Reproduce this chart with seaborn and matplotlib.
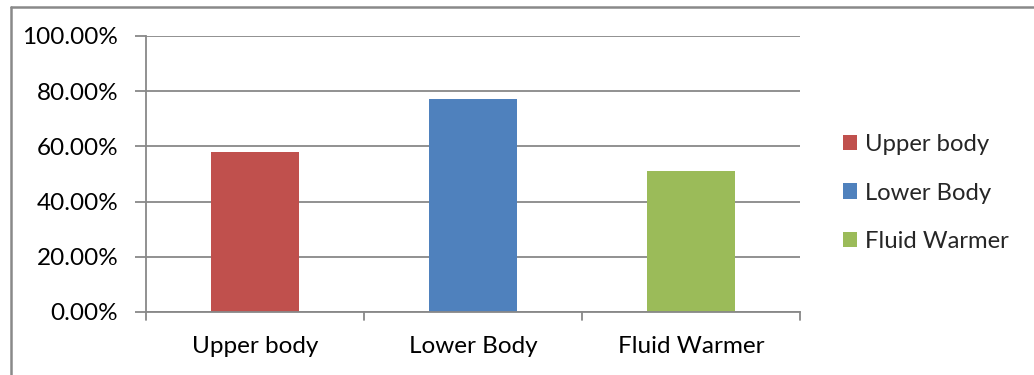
import matplotlib
matplotlib.use("Agg")
import matplotlib.pyplot as plt
from matplotlib.lines import Line2D
from matplotlib.patches import Patch
from matplotlib.ticker import PercentFormatter
import seaborn as sns
import pandas as pd

categories = ["Upper body", "Lower Body", "Fluid Warmer"]
values = [0.58, 0.77, 0.51]
colors = ["#C0504D", "#4F81BD", "#9BBB59"]
y_ticks = [0.0, 0.2, 0.4, 0.6, 0.8, 1.0]

sns.set_theme(style="white")
plt.rcParams["font.family"] = ["Lato", "DejaVu Sans"]

FS = 17.5
W, H = 1034, 375
fig = plt.figure(figsize=(W / 100, H / 100), dpi=100)
# plot area in pixels: left 146, right 800, top 36, bottom 312
ax = fig.add_axes([146 / W, 1 - 312 / H, (800 - 146) / W, (312 - 36) / H])

df = pd.DataFrame({"category": categories, "value": values})
sns.barplot(data=df, x="category", y="value", hue="category",
            palette=colors, width=0.40, dodge=False, legend=False,
            saturation=1, linewidth=0, ax=ax)

grid_c = "#888888"
ax.set_ylim(0, 1.0)
ax.set_xlim(-0.5, 2.5)
ax.set_yticks(y_ticks)
ax.yaxis.set_major_formatter(PercentFormatter(1.0, decimals=2))
ax.yaxis.grid(True, color=grid_c, linewidth=1.3)
ax.set_axisbelow(True)
for s in ["top", "right"]:
    ax.spines[s].set_visible(False)
for s in ["left", "bottom"]:
    ax.spines[s].set_color(grid_c)
    ax.spines[s].set_linewidth(1.3)

ax.set_xlabel("")
ax.set_ylabel("")
ax.set_xticks([0, 1, 2])
ax.set_xticklabels(categories)
ax.tick_params(axis="x", length=0, pad=17, labelsize=FS, colors="black")
ax.tick_params(axis="y", left=True, length=8, width=1.3, color=grid_c,
               pad=12, labelsize=FS, labelcolor="black")

# category separator ticks on the x axis
for xb in [-0.5, 0.5, 1.5, 2.5]:
    ax.plot([xb, xb], [0, -0.03], color=grid_c, lw=1.3,
            clip_on=False, transform=ax.transData)

handles = [Patch(facecolor=c, edgecolor="none", label=l)
           for c, l in zip(colors, categories)]
fig.legend(handles=handles, loc="center left",
           bbox_to_anchor=(821 / W, 1 - 193 / H), frameon=False,
           fontsize=17.2, handlelength=0.6, handleheight=0.6,
           handletextpad=0.35, labelspacing=1.15)

# outer chart frame (top and left edges)
fig.add_artist(Line2D([10.5 / W, 1.0], [1 - 6.5 / H, 1 - 6.5 / H],
                      color="#898989", lw=1.8, transform=fig.transFigure))
fig.add_artist(Line2D([10.5 / W, 10.5 / W], [0.0, 1 - 6.5 / H],
                      color="#898989", lw=1.8, transform=fig.transFigure))

fig.savefig("out.png", dpi=100, facecolor="white")
